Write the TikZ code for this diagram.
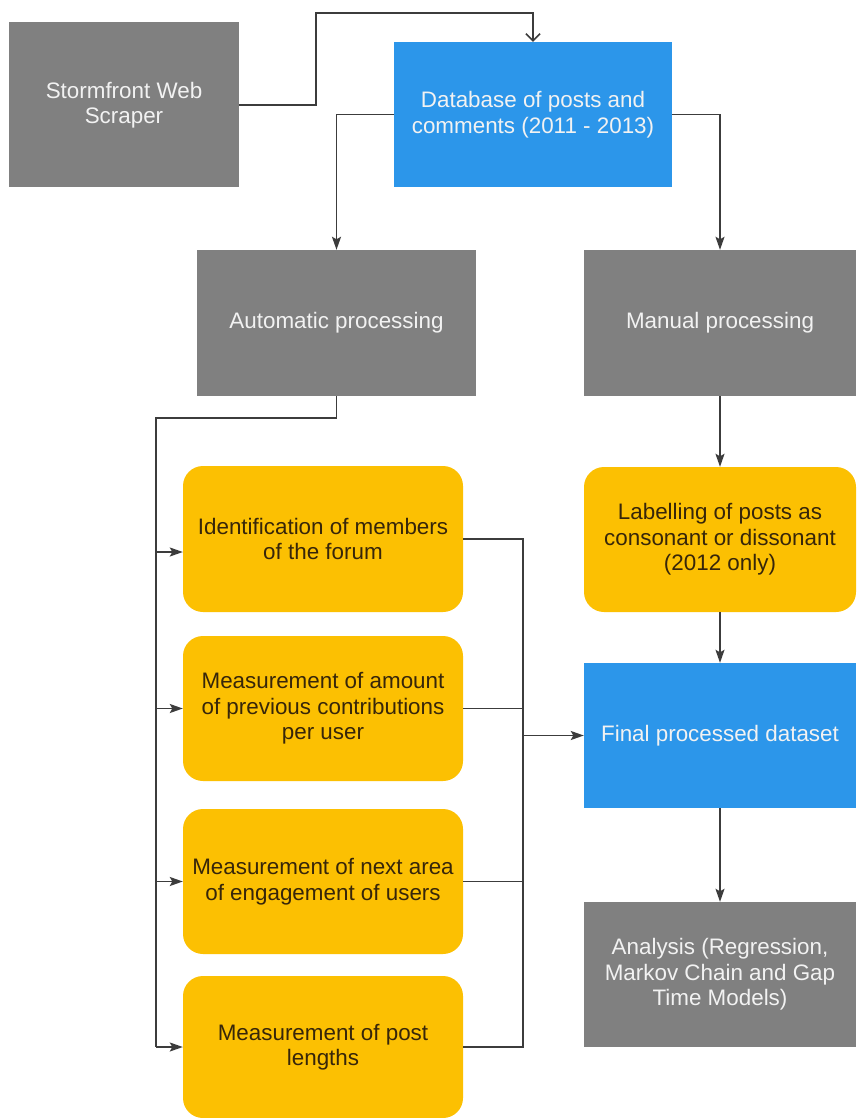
\documentclass[tikz,border=0pt]{standalone}
\usepackage{fontspec}
\setmainfont{Liberation Sans}
\usetikzlibrary{arrows.meta}
\definecolor{boxgray}{RGB}{128,128,128}
\definecolor{boxblue}{RGB}{44,150,234}
\definecolor{boxyellow}{RGB}{252,192,2}
\definecolor{ytext}{RGB}{55,38,10}
\definecolor{wtext}{RGB}{242,242,242}
\definecolor{linec}{RGB}{60,60,60}
\tikzset{
  basebox/.style={rectangle, inner sep=0pt, align=center, font=\fontsize{22.4}{25.5}\selectfont},
  graybox/.style={basebox, fill=boxgray, text=wtext},
  bluebox/.style={basebox, fill=boxblue, text=wtext},
  yellowbox/.style={basebox, fill=boxyellow, text=ytext, rounded corners=20pt},
  conn/.style={draw=linec, line width=1.6pt},
  arr/.style={conn, -{Stealth[length=13pt,width=9pt,inset=2.5pt]}},
  openarr/.style={conn, -{Straight Barb[length=7pt,width=14pt]}}
}
\begin{document}
\begin{tikzpicture}[x=1pt,y=-1pt]
\useasboundingbox (0,0) rectangle (856,1118);
\fill[white] (0,0) rectangle (856,1118);

\node[graybox, minimum width=230pt, minimum height=165pt] (scraper) at (124,105) {Stormfront Web\\Scraper};
\node[bluebox, minimum width=278pt, minimum height=145pt] (db) at (533,114.5) {Database of posts and\\comments (2011 - 2013)};
\node[graybox, minimum width=279pt, minimum height=146pt] (auto) at (336.5,323) {Automatic processing};
\node[graybox, minimum width=272pt, minimum height=146pt] (manual) at (720,323) {Manual processing};
\node[yellowbox, minimum width=280pt, minimum height=146pt] (ident) at (323,539) {Identification of members\\of the forum};
\node[yellowbox, minimum width=272pt, minimum height=145pt] (label) at (720,539.5) {Labelling of posts as\\consonant or dissonant\\(2012 only)};
\node[yellowbox, minimum width=280pt, minimum height=145pt] (amount) at (323,708.5) {Measurement of amount\\of previous contributions\\per user};
\node[bluebox, minimum width=272pt, minimum height=145pt] (final) at (720,735.5) {Final processed dataset};
\node[yellowbox, minimum width=280pt, minimum height=145pt] (next) at (323,881.5) {Measurement of next area\\of engagement of users};
\node[graybox, minimum width=272pt, minimum height=145pt] (analysis) at (720,974.5) {Analysis (Regression,\\Markov Chain and Gap\\Time Models)};
\node[yellowbox, minimum width=280pt, minimum height=142pt] (post) at (323,1047) {Measurement of post\\lengths};

% top connectors
\coordinate (s1) at (316,13);
\draw[openarr] (scraper.east) -| (s1) -| (db.north);
\draw[arr] (db.west) -| (auto.north);
\draw[arr] (db.east) -| (manual.north);

% left bus
\coordinate (busTop) at (156,418);
\coordinate (busBot) at (156,1047);
\coordinate (identIn) at ([yshift=-13pt]ident.west);
\draw[conn] (auto.south) |- (busTop) -- (busBot);
\draw[arr] (busTop |- identIn) -- (identIn);
\draw[arr] (busTop |- amount.west) -- (amount.west);
\draw[arr] (busTop |- next.west) -- (next.west);
\draw[arr] (busBot) -- (post.west);

% right collector
\coordinate (colBot) at (523,1047);
\draw[conn] (ident.east) -| (colBot) -- (post.east);
\draw[conn] (amount.east) -- (amount.east -| colBot);
\draw[conn] (next.east) -- (next.east -| colBot);
\draw[arr] (colBot |- final.west) -- (final.west);

% right column
\draw[arr] (manual.south) -- (label.north);
\draw[arr] (label.south) -- (final.north);
\draw[arr] (final.south) -- (analysis.north);
\end{tikzpicture}
\end{document}
